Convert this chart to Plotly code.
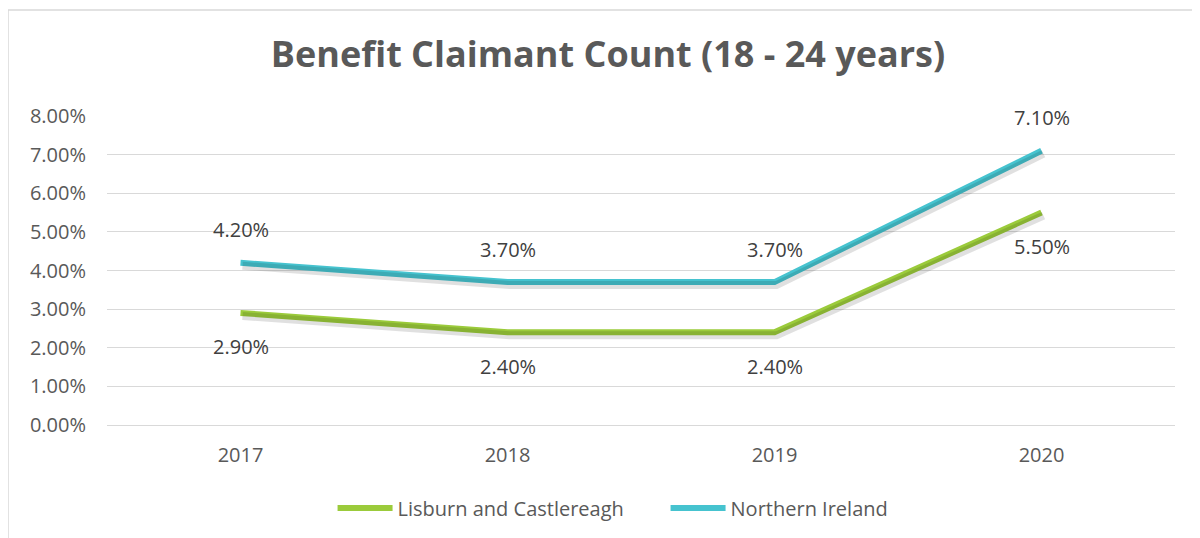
import plotly.graph_objects as go

years = ["2017", "2018", "2019", "2020"]
lisburn = [2.9, 2.4, 2.4, 5.5]
northern_ireland = [4.2, 3.7, 3.7, 7.1]

GREEN = "#9BCB3B"
TEAL = "#46C3CF"
TXT = "#595959"
FONT = "Open Sans"

# pixel sizes of plot area, used to offset the soft shadow a few px
PLOT_W, PLOT_H = 1068, 309
SH_X = 2 / (PLOT_W / 4)
SH_Y = 3 / (PLOT_H / 8)

fig = go.Figure()

# shadows on an overlaid, slightly shifted axis pair
for vals in (lisburn, northern_ireland):
    fig.add_trace(go.Scatter(
        x=list(range(len(years))), y=vals, mode="lines", showlegend=False,
        hoverinfo="skip", xaxis="x2", yaxis="y2",
        line=dict(color="rgba(0,0,0,0.12)", width=8),
    ))

fig.add_trace(go.Scatter(
    x=years, y=lisburn, mode="lines", name="Lisburn and Castlereagh",
    line=dict(color=GREEN, width=6),
))
fig.add_trace(go.Scatter(
    x=years, y=northern_ireland, mode="lines", name="Northern Ireland",
    line=dict(color=TEAL, width=6),
))

# data labels: NI above, Lisburn below
annotations = []
for i, v in enumerate(northern_ireland):
    annotations.append(dict(x=i, y=v, xref="x", yref="y", text=f"{v:.2f}%", showarrow=False,
                            yshift=33, font=dict(size=20, color="#404040", family=FONT)))
for i, v in enumerate(lisburn):
    annotations.append(dict(x=i, y=v, xref="x", yref="y", text=f"{v:.2f}%", showarrow=False,
                            yshift=-34, font=dict(size=20, color="#404040", family=FONT)))

fig.update_layout(
    width=1200, height=538,
    paper_bgcolor="white", plot_bgcolor="white",
    margin=dict(l=99, r=33, t=108, b=121),
    title=dict(text="<b>Benefit Claimant Count (18 - 24 years)</b>",
               x=0.5, xanchor="center", y=0.913, yanchor="middle",
               font=dict(size=36, color=TXT, family=FONT)),
    font=dict(family=FONT, color=TXT, size=20),
    showlegend=True,
    legend=dict(orientation="h", x=0.523, xanchor="center", y=-0.269, yanchor="middle",
                font=dict(size=20, color=TXT, family=FONT), itemwidth=55,
                entrywidth=263, entrywidthmode="pixels",
                traceorder="normal"),
    annotations=annotations,
    shapes=[dict(type="rect", xref="paper", yref="paper",
                 x0=-0.0927, x1=1.2, y0=-0.5, y1=1.343,
                 line=dict(color="#D9D9D9", width=1.5), fillcolor="rgba(0,0,0,0)",
                 layer="below")],
    xaxis2=dict(overlaying="x", range=[-0.5 - SH_X, 3.5 - SH_X], visible=False),
    yaxis2=dict(overlaying="y", range=[0 + SH_Y, 8 + SH_Y], visible=False),
)

fig.update_layout(xaxis=dict(type="category", range=[-0.5, 3.5], showgrid=False,
                             showline=True, linecolor="#D9D9D9", linewidth=1,
                             ticks="", tickfont=dict(size=20, color=TXT), ticklabelstandoff=12),
                  yaxis=dict(range=[0, 8.0], dtick=1, tickformat=".2f", ticksuffix="%",
                             showgrid=True, gridcolor="#D9D9D9", gridwidth=1,
                             zeroline=False, showline=False,
                             tickfont=dict(size=20, color=TXT), ticklabelstandoff=20))

fig.write_html("out.html")
